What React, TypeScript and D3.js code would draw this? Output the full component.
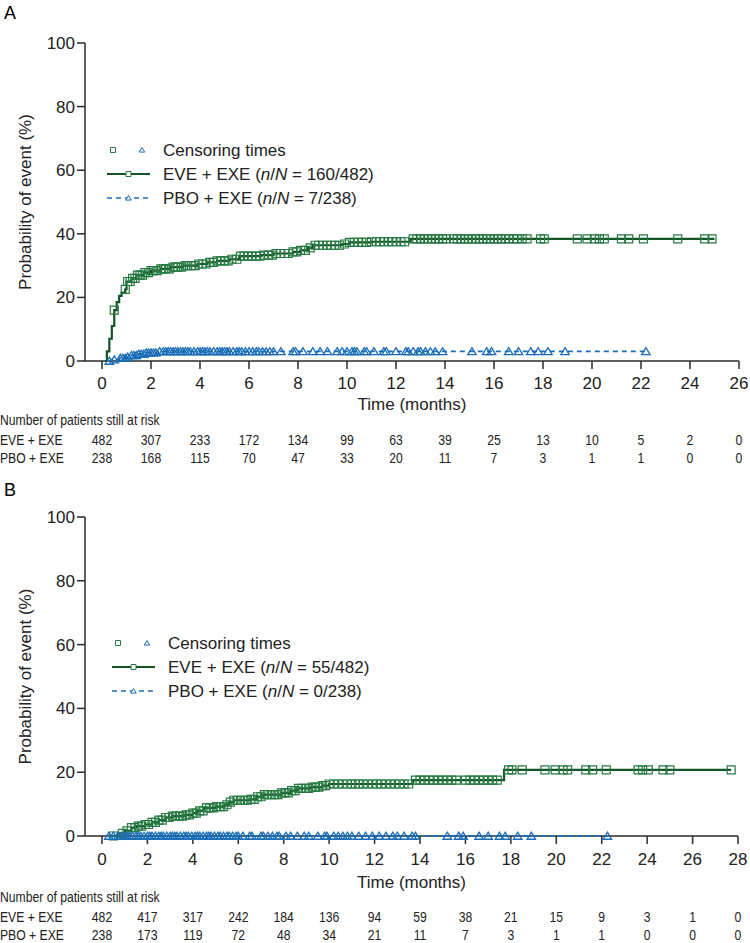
import * as d3 from "d3";

// ---------- data ----------
const ticksA = [0, 2, 4, 6, 8, 10, 12, 14, 16, 18, 20, 22, 24, 26];
const ticksB = [0, 2, 4, 6, 8, 10, 12, 14, 16, 18, 20, 22, 24, 26, 28];
const yTicks = [0, 20, 40, 60, 80, 100];

// cumulative incidence (%), step after each time
const eveA_t = [0.12, 0.2, 0.3, 0.4, 0.5, 0.6, 0.7, 0.8, 0.95, 1.0, 1.2, 1.4, 1.7, 2.0, 2.4, 2.8, 3.3, 3.9, 4.3, 4.7, 5.2, 5.6, 6.5, 7.0, 7.8, 8.1, 8.4, 8.6, 9.8, 10.1, 11.0, 12.6, 25.0];
const eveA_p = [0, 3, 7, 11, 16, 18.5, 20.5, 21.5, 22.5, 25, 26, 27, 27.8, 28.4, 29, 29.5, 30, 30.5, 31, 31.5, 32, 33, 33.3, 33.8, 34.3, 34.8, 35.6, 36.4, 36.8, 37.3, 37.5, 38.4, 38.4];
const pboA_t = [0.3, 0.4, 0.7, 1.0, 1.2, 1.5, 1.8, 2.3, 22.2];
const pboA_p = [0, 0.4, 0.9, 1.3, 1.8, 2.2, 2.6, 3.0, 3.0];

const eveB_t = [0.5, 0.8, 1.0, 1.3, 1.5, 1.9, 2.2, 2.5, 2.8, 3.1, 3.6, 4.0, 4.2, 4.5, 5.0, 5.4, 5.6, 5.8, 6.5, 6.8, 7.1, 7.9, 8.3, 8.6, 9.2, 9.7, 10.0, 13.7, 17.7, 27.7];
const eveB_p = [0, 0.8, 1.6, 2.6, 3.1, 3.6, 4.3, 5.0, 5.8, 6.2, 6.6, 7.2, 7.9, 8.8, 9.2, 9.8, 10.6, 11.2, 11.5, 12.3, 13.0, 13.5, 14.2, 14.9, 15.3, 15.8, 16.3, 17.5, 20.7, 20.7];
const pboB_t = [0.3, 22.25];
const pboB_p = [0, 0];

// censoring times (months)
const eveA_cens = [0.5, 0.95, 1.05, 1.15, 1.25, 1.35, 1.45, 1.55, 1.65, 1.75, 1.9, 2.0, 2.1, 2.25, 2.4, 2.5, 2.6, 2.75, 2.9, 3.0, 3.1, 3.25, 3.4, 3.5, 3.65, 3.8, 3.95, 4.1, 4.25, 4.4, 4.55, 4.7, 4.85, 5.0, 5.15, 5.3, 5.5, 5.65, 5.8, 5.95, 6.1, 6.3, 6.45, 6.6, 6.8, 6.95, 7.1, 7.3, 7.45, 7.6, 7.8, 7.95, 8.1, 8.3, 8.5, 8.7, 8.85, 9.0, 9.2, 9.35, 9.5, 9.7, 9.9, 10.1, 10.3, 10.45, 10.6, 10.8, 11.0, 11.2, 11.35, 11.5, 11.7, 11.85, 12.0, 12.2, 12.35, 12.7, 12.85, 13.0, 13.15, 13.3, 13.45, 13.6, 13.75, 13.9, 14.05, 14.35, 14.5, 14.65, 14.8, 14.95, 15.1, 15.25, 15.4, 15.55, 15.7, 15.85, 16.0, 16.15, 16.3, 16.45, 16.6, 16.8, 16.95, 17.15, 17.35, 17.9, 18.05, 19.4, 19.8, 20.1, 20.3, 20.5, 21.2, 21.5, 22.1, 23.5, 24.6, 24.9];
const pboA_cens = [0.3, 0.5, 0.75, 0.85, 0.95, 1.05, 1.2, 1.3, 1.4, 1.5, 1.6, 1.7, 1.8, 1.9, 2.0, 2.1, 2.2, 2.35, 2.5, 2.6, 2.7, 2.8, 2.9, 3.0, 3.1, 3.2, 3.3, 3.4, 3.5, 3.6, 3.75, 3.9, 4.0, 4.1, 4.2, 4.3, 4.4, 4.55, 4.7, 4.8, 4.9, 5.0, 5.1, 5.2, 5.35, 5.5, 5.6, 5.7, 5.85, 6.0, 6.15, 6.3, 6.4, 6.55, 6.7, 6.85, 7.0, 7.3, 7.8, 7.9, 8.2, 8.6, 8.9, 9.2, 9.6, 9.8, 10.0, 10.2, 10.3, 10.4, 10.7, 10.8, 11.1, 11.5, 11.6, 12.0, 12.4, 12.5, 12.7, 12.9, 13.0, 13.2, 13.4, 13.6, 13.9, 15.1, 15.7, 15.9, 16.6, 17.0, 17.5, 17.8, 18.2, 18.9, 22.2];
const eveB_cens = [0.5, 0.9, 1.1, 1.3, 1.45, 1.6, 1.75, 1.9, 2.05, 2.2, 2.35, 2.5, 2.65, 2.8, 2.95, 3.1, 3.25, 3.4, 3.55, 3.7, 3.85, 4.0, 4.15, 4.3, 4.45, 4.6, 4.75, 4.9, 5.05, 5.2, 5.35, 5.5, 5.65, 5.8, 5.95, 6.1, 6.25, 6.4, 6.55, 6.7, 6.85, 7.0, 7.15, 7.3, 7.45, 7.6, 7.75, 7.9, 8.05, 8.2, 8.35, 8.5, 8.65, 8.8, 8.95, 9.1, 9.25, 9.4, 9.55, 9.7, 9.85, 10.0, 10.2, 10.4, 10.6, 10.8, 11.0, 11.15, 11.3, 11.5, 11.7, 11.9, 12.1, 12.3, 12.5, 12.7, 12.9, 13.1, 13.3, 13.5, 13.8, 14.0, 14.2, 14.4, 14.6, 14.8, 15.0, 15.2, 15.4, 15.6, 16.0, 16.2, 16.4, 16.6, 16.8, 17.0, 17.2, 17.4, 17.9, 18.05, 18.5, 19.5, 19.95, 20.3, 20.5, 21.3, 21.6, 22.2, 23.6, 23.8, 24.05, 24.7, 25.0, 27.7];
const pboB_cens = [0.3, 0.5, 0.7, 0.85, 1.0, 1.1, 1.2, 1.35, 1.5, 1.6, 1.7, 1.85, 2.0, 2.1, 2.2, 2.35, 2.5, 2.6, 2.7, 2.85, 3.0, 3.1, 3.2, 3.3, 3.45, 3.6, 3.7, 3.8, 3.95, 4.1, 4.2, 4.3, 4.45, 4.6, 4.7, 4.8, 4.95, 5.1, 5.2, 5.35, 5.5, 5.6, 5.75, 5.9, 6.0, 6.2, 6.5, 6.6, 7.0, 7.1, 7.3, 7.5, 7.7, 7.8, 8.1, 8.3, 8.6, 8.9, 9.1, 9.5, 9.8, 9.9, 10.2, 10.4, 10.6, 10.8, 11.0, 11.3, 11.6, 11.9, 12.2, 12.5, 12.8, 13.0, 13.3, 13.65, 13.8, 15.2, 15.7, 15.9, 16.6, 17.0, 17.5, 17.75, 18.3, 18.9, 22.25];

// patients still at risk
const riskA_eve = [482, 307, 233, 172, 134, 99, 63, 39, 25, 13, 10, 5, 2, 0];
const riskA_pbo = [238, 168, 115, 70, 47, 33, 20, 11, 7, 3, 1, 1, 0, 0];
const riskB_eve = [482, 417, 317, 242, 184, 136, 94, 59, 38, 21, 15, 9, 3, 1, 0];
const riskB_pbo = [238, 173, 119, 72, 48, 34, 21, 11, 7, 3, 1, 1, 0, 0, 0];

const GREEN = "#135526";
const GREEN_MK = "#267a42";
const BLUE = "#1a6db8";
const AXIS = "#2a2a2a";
const FONT = "'Liberation Sans', Arial, Helvetica, sans-serif";
const SX = 0.84; // risk table is set in a condensed face

function stepAt(ts: number[], ps: number[], t: number) {
  let v = 0;
  for (let i = 0; i < ts.length; i++) if (ts[i] <= t) v = ps[i];
  return v;
}

const sq = (x: number, y: number, s: number) =>
  `M${x - s / 2},${y - s / 2}h${s}v${s}h${-s}Z`;
const tri = (x: number, y: number, s: number) =>
  `M${x},${y - s * 0.45}L${x + s / 2},${y + s * 0.38}L${x - s / 2},${y + s * 0.38}Z`;

function Narrow({ x, y, anchor, children }: any) {
  return (
    <text transform={`translate(${x},${y}) scale(${SX},1)`} dy="0.35em" textAnchor={anchor || "start"}>
      {children}
    </text>
  );
}

function Panel(props: any) {
  const { label, top, xMax, xRight, ticks, yTop, yBottom, eve, pbo, eveC, pboC, risk, legend, lay } = props;
  const x = d3.scaleLinear().domain([0, xMax]).range([102, xRight]);
  const y = d3.scaleLinear().domain([0, 100]).range([yBottom, yTop]);
  const line = d3
    .line<[number, number]>()
    .x((d) => x(d[0]))
    .y((d) => y(d[1]))
    .curve(d3.curveStepAfter);
  const evePts = eve[0].map((t: number, i: number) => [t, eve[1][i]]);
  const pboPts = pbo[0].map((t: number, i: number) => [t, pbo[1][i]]);
  const axX = 85;
  return (
    <g>
      <text x={4} y={top} fontSize={18} fontFamily={FONT}>{label}</text>
      {/* y axis */}
      <line x1={axX} x2={axX} y1={y(100)} y2={y(0)} stroke={AXIS} strokeWidth={1.5} />
      {yTicks.map((v) => (
        <g key={"y" + v}>
          <line x1={axX - 8} x2={axX} y1={y(v)} y2={y(v)} stroke={AXIS} strokeWidth={1.5} />
          <text x={axX - 10} y={y(v)} dy="0.35em" textAnchor="end" fontSize={17} fontFamily={FONT} fill="#222">{v}</text>
        </g>
      ))}
      <text
        transform={`translate(25,${(y(0) + y(100)) / 2}) rotate(-90)`}
        textAnchor="middle"
        dy="0.35em"
        fontSize={17}
        fontFamily={FONT}
        fill="#222"
      >
        Probability of event (%)
      </text>
      {/* x axis */}
      <line x1={axX} x2={x(xMax)} y1={y(0)} y2={y(0)} stroke={AXIS} strokeWidth={1.5} />
      {ticks.map((v: number) => (
        <g key={"x" + v}>
          <line x1={x(v)} x2={x(v)} y1={y(0)} y2={y(0) + 8} stroke={AXIS} strokeWidth={1.5} />
          <text x={x(v)} y={lay.tickY} dy="0.35em" textAnchor="middle" fontSize={17} fontFamily={FONT} fill="#222">{v}</text>
        </g>
      ))}
      <text x={(axX + x(xMax)) / 2} y={lay.titleY} dy="0.35em" textAnchor="middle" fontSize={17} fontFamily={FONT} fill="#222">
        Time (months)
      </text>
      {/* curves */}
      <path d={line(evePts as any) || ""} fill="none" stroke={GREEN} strokeWidth={2.2} />
      <path d={line(pboPts as any) || ""} fill="none" stroke={BLUE} strokeWidth={1.8} strokeDasharray="5,4" />
      {eveC.map((t: number, i: number) => (
        <path key={"e" + i} d={sq(x(t), y(stepAt(eve[0], eve[1], t)), 8)} fill="none" stroke={GREEN_MK} strokeWidth={1.2} />
      ))}
      {pboC.map((t: number, i: number) => (
        <path key={"p" + i} d={tri(x(t), y(stepAt(pbo[0], pbo[1], t)), 8.5)} fill="none" stroke={BLUE} strokeWidth={1.3} />
      ))}
      {/* legend */}
      <g fontFamily={FONT} fontSize={17} fill="#222">
        <path d={sq(legend.x + 6, legend.y, 5)} fill="none" stroke={GREEN_MK} strokeWidth={1} />
        <path d={tri(legend.x + 35, legend.y, 5.5)} fill="none" stroke={BLUE} strokeWidth={1} />
        <text x={legend.x + 56} y={legend.y} dy="0.35em">Censoring times</text>
        <line x1={legend.x} x2={legend.x + 43} y1={legend.y + 24} y2={legend.y + 24} stroke={GREEN} strokeWidth={2} />
        <path d={sq(legend.x + 21.5, legend.y + 24, 5)} fill="white" stroke={GREEN_MK} strokeWidth={1} />
        <text x={legend.x + 56} y={legend.y + 24} dy="0.35em">
          EVE + EXE (<tspan fontStyle="italic">n</tspan>/<tspan fontStyle="italic">N</tspan> = {legend.eve})
        </text>
        <line x1={legend.x} x2={legend.x + 43} y1={legend.y + 48} y2={legend.y + 48} stroke={BLUE} strokeWidth={1.5} strokeDasharray="5,4" />
        <path d={tri(legend.x + 21.5, legend.y + 48, 5.5)} fill="white" stroke={BLUE} strokeWidth={1} />
        <text x={legend.x + 56} y={legend.y + 48} dy="0.35em">
          PBO + EXE (<tspan fontStyle="italic">n</tspan>/<tspan fontStyle="italic">N</tspan> = {legend.pbo})
        </text>
      </g>
      {/* risk table */}
      <g fontFamily={FONT} fontSize={14.5} fill="#222">
        <Narrow x={0} y={lay.riskY}>Number of patients still at risk</Narrow>
        <Narrow x={0} y={lay.riskY + 20}>EVE + EXE</Narrow>
        <Narrow x={0} y={lay.riskY + 38}>PBO + EXE</Narrow>
        {risk[0].map((v: number, i: number) => (
          <Narrow key={"re" + i} x={x(ticks[i])} y={lay.riskY + 20} anchor="middle">{v}</Narrow>
        ))}
        {risk[1].map((v: number, i: number) => (
          <Narrow key={"rp" + i} x={x(ticks[i])} y={lay.riskY + 38} anchor="middle">{v}</Narrow>
        ))}
      </g>
    </g>
  );
}

export default function App() {
  return (
    <svg width={750} height={943} style={{ position: "absolute", left: 0, top: 0, background: "#fff" }}>
      <Panel
        label="A"
        top={19}
        xMax={26}
        xRight={739}
        ticks={ticksA}
        yTop={43}
        yBottom={361}
        eve={[eveA_t, eveA_p]}
        pbo={[pboA_t, pboA_p]}
        eveC={eveA_cens}
        pboC={pboA_cens}
        risk={[riskA_eve, riskA_pbo]}
        legend={{ x: 107, y: 150, eve: "160/482", pbo: "7/238" }}
        lay={{ tickY: 383.5, titleY: 404, riskY: 420 }}
      />
      <Panel
        label="B"
        top={496}
        xMax={28}
        xRight={738}
        ticks={ticksB}
        yTop={517}
        yBottom={836}
        eve={[eveB_t, eveB_p]}
        pbo={[pboB_t, pboB_p]}
        eveC={eveB_cens}
        pboC={pboB_cens}
        risk={[riskB_eve, riskB_pbo]}
        legend={{ x: 112, y: 643, eve: "55/482", pbo: "0/238" }}
        lay={{ tickY: 859, titleY: 882, riskY: 897 }}
      />
    </svg>
  );
}
